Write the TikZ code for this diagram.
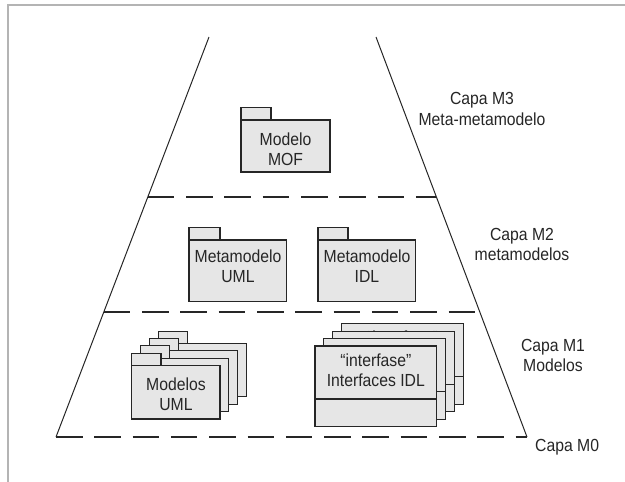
\documentclass[tikz,border=0pt]{standalone}
\usepackage{fontspec}
\setmainfont[FakeStretch=0.9]{Liberation Sans}
\usetikzlibrary{calc}
\definecolor{ink}{HTML}{262626}
\definecolor{pkgfill}{HTML}{E6E6E6}
\definecolor{framegray}{HTML}{B4B4B4}
\tikzset{
  lbl/.style={font=\fontsize{17.5}{20.5}\selectfont, text=ink, align=center, inner sep=0pt},
  pkgpart/.style={draw=ink, fill=pkgfill, line width=1.1pt, rectangle, inner sep=0pt, outer sep=0pt, anchor=north west},
  layerline/.style={draw=ink, line width=1.3pt, dash pattern=on 26.5pt off 11.8pt},
  side/.style={draw=ink, line width=1pt},
}
% name, x, y (body top-left), width, height, tab width
\newcommand\pkgnode[6]{%
  \node[pkgpart, minimum width=#4, minimum height=#5] (#1) at (#2,#3) {};
  \node[pkgpart, minimum width=#6, minimum height=12.4, anchor=south west] (#1tab) at (#1.north west) {};
}
% name, x, y (top-left), baseline offset of last line, text
\newcommand\ifacebox[5]{%
  \node[pkgpart, minimum width=121.7, minimum height=80.7] (#1) at (#2,#3) {};
  \draw[ink, line width=1.1pt] ($(#1.north west)+(0,53)$) -- ($(#1.north east)+(0,53)$);
  \node[lbl, anchor=base] (#1txt) at ($(#1.north)+(0,#4)$) {#5};
}
\begin{document}
\begin{tikzpicture}[x=1pt, y=-1pt]
\useasboundingbox (0,0) rectangle (625,482);
% frame
\draw[framegray, line width=1.5pt] (8,482) -- (8,5) -- (625,5);
% pyramid
\coordinate (TL) at (209,37);
\coordinate (BL) at (56,437);
\coordinate (TR) at (376,37);
\coordinate (BR) at (527,437);
\draw[side] (TL) -- (BL);
\draw[side] (TR) -- (BR);
\draw[layerline] (BL) -- (BR);
\draw[layerline] ($(TL)!0.4!(BL)$) -- ($(TR)!0.4!(BR)$);
\draw[layerline] ($(TL)!0.6875!(BL)$) -- ($(TR)!0.6875!(BR)$);
% M3
\pkgnode{mof}{241}{120}{89}{52}{30}
\node[lbl] (moftxt) at (285.5,149) {Modelo\\MOF};
% M2
\pkgnode{muml}{189}{240}{97.7}{61.7}{31}
\node[lbl] (mumltxt) at (238,266.3) {Metamodelo\\UML};
\pkgnode{midl}{318}{240}{97.7}{61.7}{30}
\node[lbl] (midltxt) at (367,266.3) {Metamodelo\\IDL};
% M1 : UML models stack
\pkgnode{uml3}{158.4}{343.5}{88.3}{53.3}{29.3}
\pkgnode{uml2}{149.5}{350.9}{88.3}{53.3}{29.3}
\pkgnode{uml1}{140.6}{358.3}{88.3}{53.3}{29.3}
\pkgnode{uml0}{131.7}{365.7}{88.3}{53.3}{29.3}
\node[lbl] (umltxt) at (176,394) {Modelos\\UML};
% M1 : IDL interfaces stack
\ifacebox{idl3}{341.7}{323.8}{20}{“interfase”}
\ifacebox{idl2}{332.8}{331.2}{20}{“interfase”}
\ifacebox{idl1}{323.9}{338.6}{20}{“interfase”}
\ifacebox{idl0}{315}{346}{40.7}{“interfase”\\Interfaces IDL}
% layer labels
\node[lbl] (m3) at (482,109) {Capa M3\\Meta-metamodelo};
\node[lbl] (m2) at (522,244.7) {Capa M2\\metamodelos};
\node[lbl] (m1) at (553,355.7) {Capa M1\\Modelos};
\node[lbl, anchor=base west] (m0) at (535,451.7) {Capa M0};
\end{tikzpicture}
\end{document}
